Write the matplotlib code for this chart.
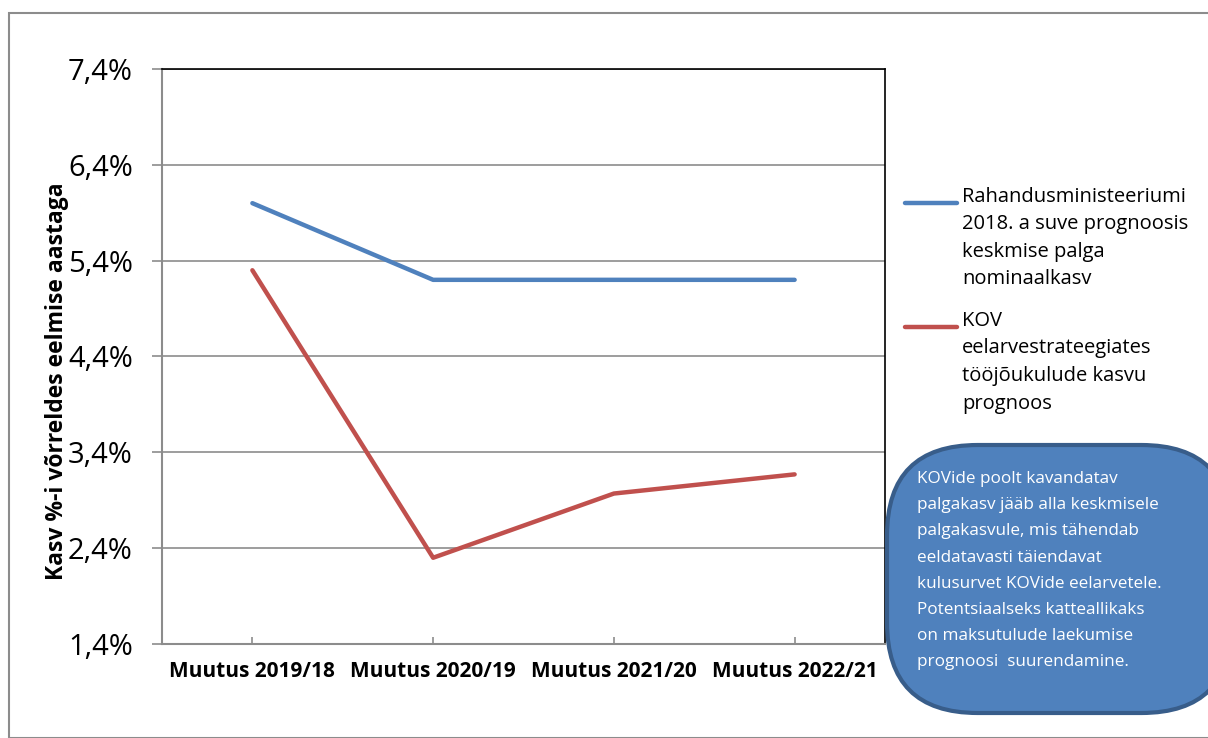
import matplotlib
matplotlib.use("Agg")
import matplotlib.pyplot as plt
from matplotlib.patches import Rectangle, FancyBboxPatch
from matplotlib.lines import Line2D
from matplotlib.ticker import FuncFormatter

categories = ["Muutus 2019/18", "Muutus 2020/19", "Muutus 2021/20", "Muutus 2022/21"]
rahandus = [6.0, 5.2, 5.2, 5.2]
kov = [5.3, 2.3, 2.97, 3.17]
yticks = [1.4, 2.4, 3.4, 4.4, 5.4, 6.4, 7.4]
label_rahandus = "Rahandusministeeriumi\n2018. a suve prognoosis\nkeskmise palga\nnominaalkasv"
label_kov = "KOV\neelarvestrateegiates\ntööjõukulude kasvu\nprognoos"
note = ("KOVide poolt kavandatav\npalgakasv jääb alla keskmisele\npalgakasvule, mis tähendab\n"
        "eeldatavasti täiendavat\nkulusurvet KOVide eelarvetele.\nPotentsiaalseks katteallikaks\n"
        "on maksutulude laekumise\nprognoosi  suurendamine.")

plt.rcParams['font.family'] = ['Open Sans', 'DejaVu Sans']

BLUE = "#4F81BD"
RED = "#C0504D"

fig = plt.figure(figsize=(12.08, 7.38), dpi=100)
W, H = 1208, 738
ax = fig.add_axes([162 / W, 1 - 644 / H, (885 - 162) / W, (644 - 69) / H])

x = list(range(len(categories)))
ax.plot(x, rahandus, color=BLUE, lw=3.2, solid_capstyle="round")
ax.plot(x, kov, color=RED, lw=3.2, solid_capstyle="round")

ax.set_xlim(-0.5, 3.5)
ax.set_ylim(1.4, 7.4)
ax.set_yticks(yticks)
ax.yaxis.set_major_formatter(FuncFormatter(lambda v, p: f"{v:.1f}%".replace(".", ",")))
ax.grid(axis="y", color="#8c8c8c", lw=1.2)
ax.set_axisbelow(True)
ax.set_xticks(x)
ax.set_xticklabels(categories, fontsize=15, fontweight="bold")
ax.tick_params(axis="y", labelsize=21, length=7, color="#8c8c8c", width=1.2, pad=14)
ax.tick_params(axis="x", length=5, color="#8c8c8c", width=1.2, pad=12, direction="in")
for s in ["left", "bottom"]:
    ax.spines[s].set_color("#8c8c8c")
    ax.spines[s].set_linewidth(1.5)
for s in ["top", "right"]:
    ax.spines[s].set_color("black")
    ax.spines[s].set_linewidth(1.2)

ax.set_ylabel("Kasv %-i võrreldes eelmise aastaga", fontsize=16.5, fontweight="bold")
ax.yaxis.set_label_coords(-0.129, 0.457)

# legend drawn manually (handle aligned with first text line)
for ycen, col, lab in [(203, BLUE, label_rahandus), (327, RED, label_kov)]:
    fig.lines.append(Line2D([905 / W, 957 / W], [1 - ycen / H, 1 - ycen / H],
                            transform=fig.transFigure, color=col, lw=3.2,
                            solid_capstyle="round"))
    fig.text(962 / W, 1 - (ycen - 16) / H, lab, fontsize=14.5, va="top", ha="left",
             linespacing=1.5)

# outer frame
fig.patches.append(Rectangle((9 / W, 0), 1.2, 1 - 13 / H, transform=fig.transFigure,
                             fill=False, edgecolor="#8c8c8c", lw=1.5))

box = FancyBboxPatch((887 / W, 1 - 713 / H), 345 / W, 268 / H,
                     boxstyle="round,pad=0,rounding_size=0.075", mutation_aspect=W / H,
                     transform=fig.transFigure, facecolor=BLUE, edgecolor="#385D8A",
                     lw=3, clip_on=False)
fig.patches.append(box)
fig.text(917 / W, 1 - 471 / H, note, color="white", fontsize=12.3, va="top", ha="left",
         linespacing=1.85)

fig.savefig("out.png", dpi=100)
